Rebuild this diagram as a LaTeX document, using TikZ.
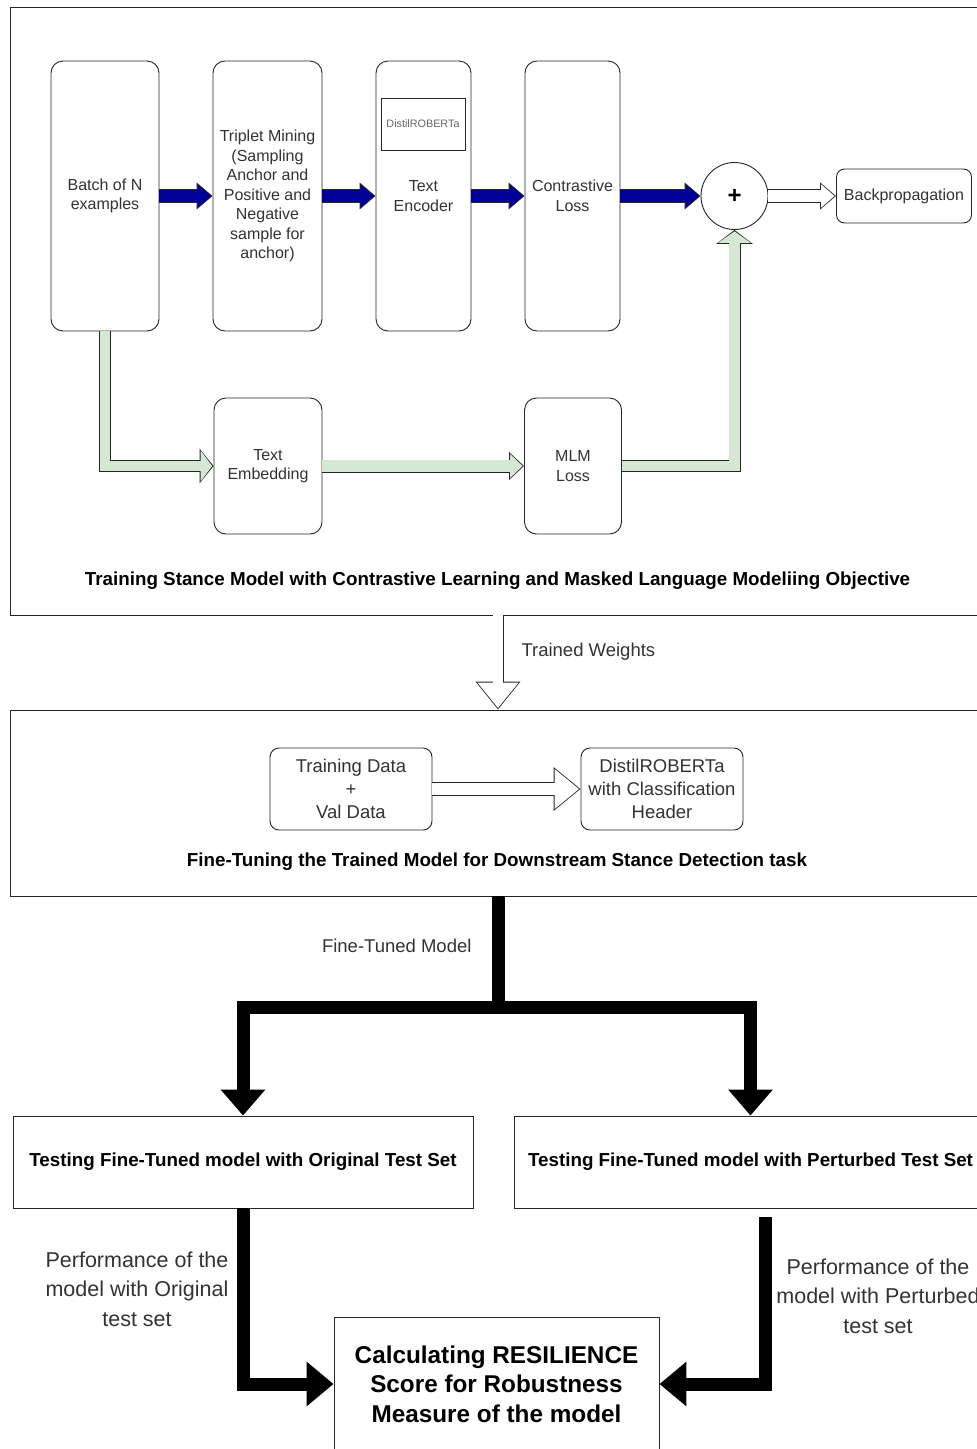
\documentclass[tikz,border=0pt]{standalone}
\usepackage{fontspec}
\setmainfont{Liberation Sans}
\usetikzlibrary{arrows.meta,positioning,calc}

\definecolor{navyarrow}{RGB}{0,0,150}
\definecolor{greenfill}{HTML}{D5E8D4}
\definecolor{txtgrey}{HTML}{333333}

% outlined block arrow: fill colour, body width, head length, head width (plain numbers, outer sizes)
\tikzset{block arrow/.style n args={4}{
    /utils/exec={\pgfmathsetlengthmacro\bodyin{(#2-1.8)*1pt}%
                 \pgfmathsetlengthmacro\headlin{(#3-2.4)*1pt}%
                 \pgfmathsetlengthmacro\headwin{(#4-3.6)*1pt}},
    draw=#1, line width=\bodyin, shorten >=1.4pt,
    -{Triangle[length=\headlin,width=\headwin]},
    preaction={draw=black!85, line width=#2pt, shorten >=0pt,
               -{Triangle[length=#3pt,width=#4pt]}}}}

\begin{document}
\begin{tikzpicture}[x=1pt,y=-1pt,
    stage node/.style={draw=black!85,fill=white,line width=0.9pt,rounded corners=12pt,align=center,text=txtgrey,font=\fontsize{16}{19.5}\selectfont,inner sep=2pt},
    small node/.style={stage node,rounded corners=9pt,font=\fontsize{18.5}{23}\selectfont},
    panel/.style={draw=black!85,line width=0.9pt},
    test node/.style={draw=black!85,line width=0.9pt,fill=white,align=center,font=\bfseries\fontsize{18.8}{22}\selectfont},
    title label/.style={font=\bfseries\fontsize{18.8}{22}\selectfont},
    edge label/.style={text=txtgrey,align=center,font=\fontsize{18.5}{23}\selectfont},
    black arrow/.style={draw=black,line width=13pt,-{Triangle[length=26pt,width=43pt]}}]

 \useasboundingbox (0,0) rectangle (977,1449);
 \clip (0,0) rectangle (977,1449);
 \fill[white] (0,0) rectangle (977,1449);

 % the two panels
 \node[panel,minimum width=976pt,minimum height=608pt] (trainpanel) at (498,311) {};
 \node[panel,minimum width=976pt,minimum height=186pt] (finepanel) at (498,803) {};

 % contrastive learning stage
 \node[stage node,minimum width=108pt,minimum height=270pt] (batch) at (105,196) {Batch of N\\examples};
 \node[stage node,minimum width=109pt,minimum height=270pt] (triplet) at (267.5,196) {Triplet Mining\\(Sampling\\Anchor and\\Positive and\\Negative\\sample for\\anchor)};
 \node[stage node,minimum width=95pt,minimum height=270pt] (encoder) at (423.5,196) {Text\\Encoder};
 \node[draw=black!85,line width=0.9pt,minimum width=84pt,minimum height=52pt,text=black!60,font=\fontsize{10.8}{12}\selectfont] (distil) at (423,124) {DistilROBERTa};
 \node[stage node,minimum width=95pt,minimum height=270pt] (contrast) at (572.5,196) {Contrastive\\Loss};
 \node[circle,draw=black!85,line width=0.9pt,fill=white,minimum size=67pt,font=\bfseries\fontsize{24}{24}\selectfont] (plus) at (734.5,196) {+};
 \node[stage node,rounded corners=8pt,minimum width=135pt,minimum height=54pt] (backprop) at (904,196) {Backpropagation};

 % masked language modelling stage
 \node[stage node,minimum width=108pt,minimum height=136pt] (textemb) at (268,466) {Text\\Embedding};
 \node[stage node,minimum width=97pt,minimum height=136pt] (mlm) at (573,466) {MLM\\Loss};

 \node[title label] (traintitle) at (497.5,581) {Training Stance Model with Contrastive Learning and Masked Language Modeliing Objective};

 \draw[block arrow={navyarrow}{14}{16}{26}] (batch.east) -- (triplet.west);
 \draw[block arrow={navyarrow}{14}{16}{26}] (triplet.east) -- (encoder.west);
 \draw[block arrow={navyarrow}{14}{16}{26}] (encoder.east) -- (contrast.west);
 \draw[block arrow={navyarrow}{14}{16}{26}] (contrast.east) -- (plus.west);
 \draw[block arrow={white}{14}{16}{26}] (plus.east) -- (backprop.west);

 \draw[block arrow={greenfill}{12}{14}{34}] (batch.south) |- (textemb.west);
 \draw[block arrow={greenfill}{13}{15}{27}] (textemb.east) -- (mlm.west);
 \draw[block arrow={greenfill}{12}{14}{36}] (mlm.east) -| (plus.south);

 % handing the weights over
 \draw[block arrow={white}{11}{28}{43}] (trainpanel.south) -- (finepanel.north);
 \node[edge label,anchor=west] (weightlabel) at (518,652) {Trained Weights};

 % fine-tuning stage
 \node[small node,minimum width=162pt,minimum height=82pt] (trdata) at (351,789) {Training Data\\+\\Val Data};
 \node[small node,minimum width=162pt,minimum height=82pt] (distilcls) at (662,789) {DistilROBERTa\\with Classification\\Header};
 \draw[block arrow={white}{14}{27}{42}] (trdata.east) -- (distilcls.west);
 \node[title label] (finetitle) at (497,862) {Fine-Tuning the Trained Model for Downstream Stance Detection task};

 % testing
 \node[test node,minimum width=460pt,minimum height=92pt] (origtest) at (243,1162) {Testing Fine-Tuned model with Original Test Set};
 \node[test node,minimum width=472pt,minimum height=92pt] (perttest) at (750.5,1162) {Testing Fine-Tuned model with Perturbed Test Set};

 \coordinate (branch) at (498,1007);
 \draw[black arrow] (finepanel.south) -- (branch) -| (origtest.north);
 \draw[black arrow] (finepanel.south) -- (branch) -| (perttest.north);
 \node[edge label,anchor=east] (tunedlabel) at (475,946) {Fine-Tuned Model};

 % resilience score
 \node[test node,minimum width=325pt,minimum height=134pt,font=\bfseries\fontsize{24.3}{29.5}\selectfont] (resil) at (496.5,1384) {Calculating RESILIENCE\\Score for Robustness\\Measure of the model};
 \coordinate (pertout) at (765,1217);
 \draw[black arrow,-{Triangle[length=27pt,width=43pt]}] (origtest.south) |- (resil.west);
 \draw[black arrow,-{Triangle[length=27pt,width=43pt]}] (pertout) |- (resil.east);

 \node[edge label,font=\fontsize{21.5}{29.5}\selectfont] (origperf) at (137,1289) {Performance of the\\model with Original\\test set};
 \node[edge label,font=\fontsize{21.5}{29.5}\selectfont] (pertperf) at (878,1296) {Performance of the\\model with Perturbed\\test set};

\end{tikzpicture}
\end{document}
